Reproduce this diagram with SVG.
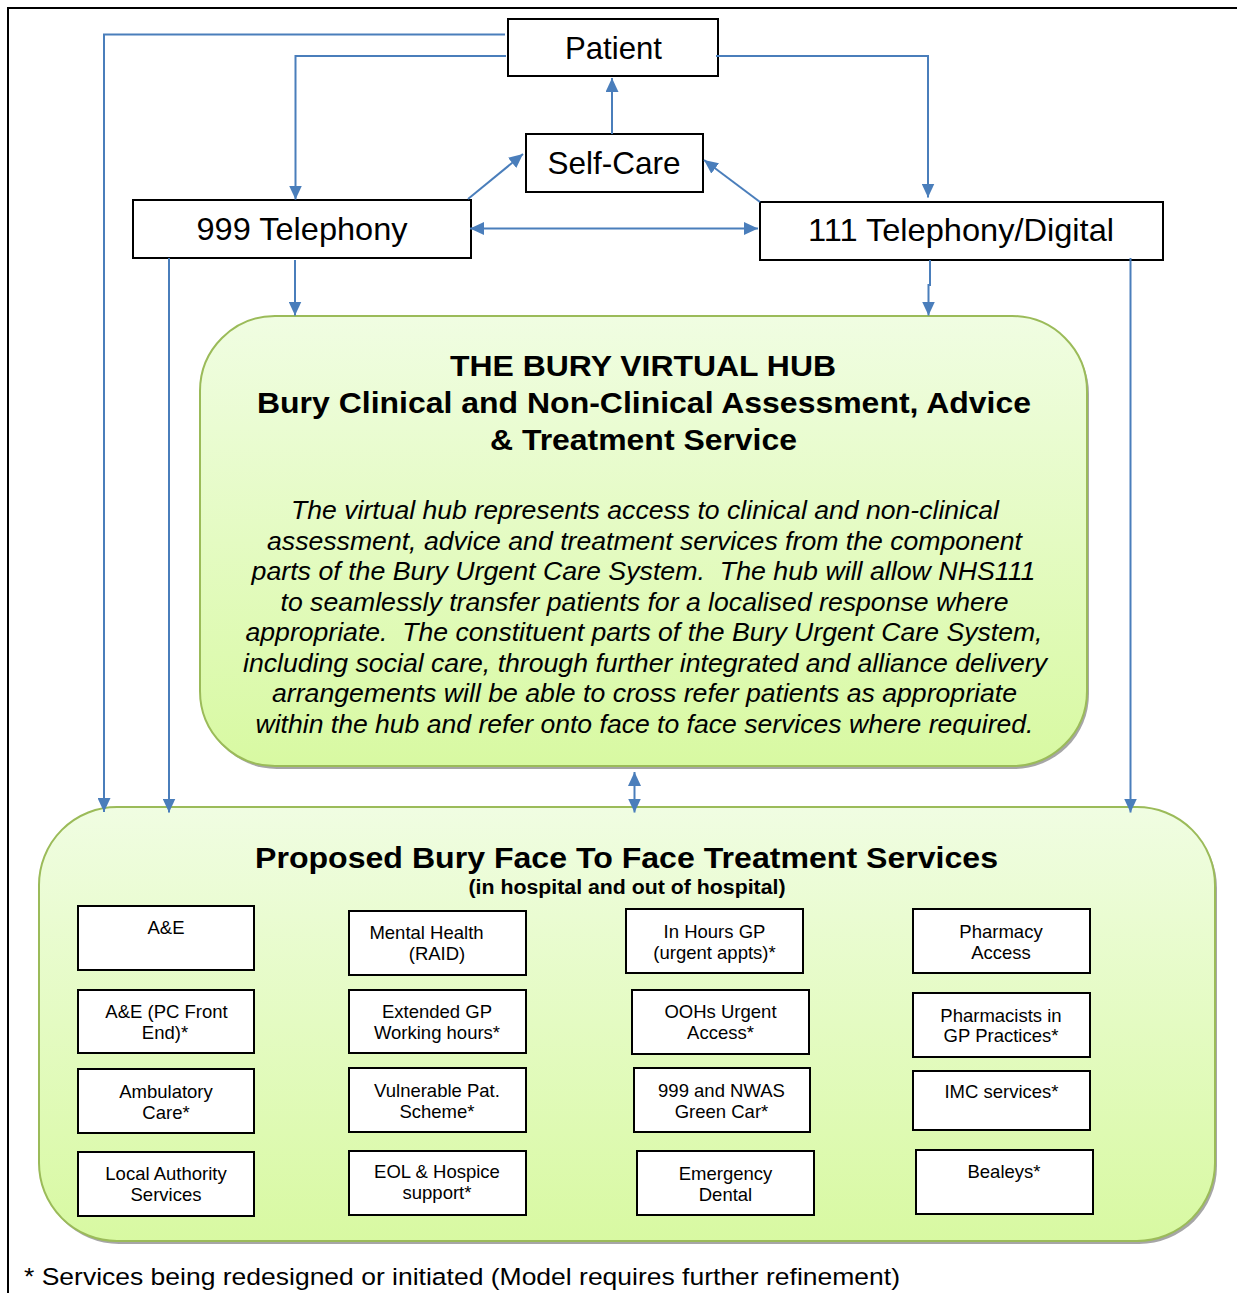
<svg xmlns="http://www.w3.org/2000/svg" width="1237" height="1293" viewBox="0 0 1237 1293">
<style>
.box{fill:#fff;stroke:#000;stroke-width:2}
.sm{fill:#fff;stroke:#000;stroke-width:2}
.big{font-family:"Liberation Sans",Arial,sans-serif;font-size:31.5px;fill:#000;text-anchor:middle}
.lbl{font-family:"Liberation Sans",Arial,sans-serif;font-size:18.5px;fill:#000;text-anchor:middle}
.ttl{font-family:"Liberation Sans",Arial,sans-serif;font-size:30px;font-weight:bold;fill:#000;text-anchor:middle}
.sub{font-family:"Liberation Sans",Arial,sans-serif;font-size:20px;font-weight:bold;fill:#000;text-anchor:middle}
.it{font-family:"Liberation Sans",Arial,sans-serif;font-size:25px;font-style:italic;fill:#000;text-anchor:middle;white-space:pre}
.foot{font-family:"Liberation Sans",Arial,sans-serif;font-size:24.5px;fill:#000}
.con{fill:none;stroke:#4a7ebb;stroke-width:2}
.green{stroke:#9bbb59;stroke-width:2}
</style>
<defs>
<linearGradient id="g" x1="0" y1="0" x2="0" y2="1">
<stop offset="0" stop-color="#f0fde2"/>
<stop offset="1" stop-color="#d8f9a2"/>
</linearGradient>
<marker id="ah" viewBox="0 0 14 13" refX="14" refY="6.5" markerWidth="14" markerHeight="13" markerUnits="userSpaceOnUse" orient="auto-start-reverse">
<path d="M0 0 L14 6.5 L0 13 Z" fill="#4a7ebb"/>
</marker>
<clipPath id="hubclip"><rect x="200" y="317" width="887" height="418"/></clipPath>
</defs>
<rect width="1237" height="1293" fill="#fff"/>
<path d="M8 1293 V8 H1237" fill="none" stroke="#000" stroke-width="2"/>

<g id="hub">
<rect x="202" y="319" width="887" height="450" rx="75" fill="#a6a6a6"/>
<rect x="200" y="316" width="887" height="450" rx="75" fill="url(#g)" class="green"/>
<text class="ttl" x="643" y="376" textLength="386" lengthAdjust="spacingAndGlyphs">THE BURY VIRTUAL HUB</text>
<text class="ttl" x="644" y="413" textLength="774" lengthAdjust="spacingAndGlyphs">Bury Clinical and Non-Clinical Assessment, Advice</text>
<text class="ttl" x="643.5" y="450" textLength="307" lengthAdjust="spacingAndGlyphs">&amp; Treatment Service</text>
<g clip-path="url(#hubclip)">
<text class="it" x="645" y="519" textLength="708" lengthAdjust="spacingAndGlyphs">The virtual hub represents access to clinical and non-clinical</text>
<text class="it" x="644.5" y="549.5" textLength="755" lengthAdjust="spacingAndGlyphs">assessment, advice and treatment services from the component</text>
<text class="it" x="643.5" y="580" textLength="784" lengthAdjust="spacingAndGlyphs" xml:space="preserve">parts of the Bury Urgent Care System.  The hub will allow NHS111</text>
<text class="it" x="644.5" y="611" textLength="728" lengthAdjust="spacingAndGlyphs">to seamlessly transfer patients for a localised response where</text>
<text class="it" x="644" y="641" textLength="797" lengthAdjust="spacingAndGlyphs" xml:space="preserve">appropriate.  The constituent parts of the Bury Urgent Care System,</text>
<text class="it" x="645" y="672" textLength="804" lengthAdjust="spacingAndGlyphs">including social care, through further integrated and alliance delivery</text>
<text class="it" x="644.5" y="702" textLength="745" lengthAdjust="spacingAndGlyphs">arrangements will be able to cross refer patients as appropriate</text>
<text class="it" x="644.5" y="732.5" textLength="778" lengthAdjust="spacingAndGlyphs">within the hub and refer onto face to face services where required.</text>
</g>
</g>

<g id="services">
<rect x="41" y="810" width="1176" height="434" rx="78" fill="#a6a6a6"/>
<rect x="39" y="807" width="1176" height="434" rx="78" fill="url(#g)" class="green"/>
<text class="ttl" x="626.5" y="868" textLength="743" lengthAdjust="spacingAndGlyphs">Proposed Bury Face To Face Treatment Services</text>
<text class="sub" x="627" y="894" textLength="317" lengthAdjust="spacingAndGlyphs">(in hospital and out of hospital)</text>
</g>

<g id="patient"><rect class="box" x="508" y="19" width="210" height="57"/><text class="big" x="613.5" y="59" textLength="97" lengthAdjust="spacingAndGlyphs">Patient</text></g>
<g id="selfcare"><rect class="box" x="526" y="134" width="177" height="58"/><text class="big" x="614" y="174" textLength="133" lengthAdjust="spacingAndGlyphs">Self-Care</text></g>
<g id="t999"><rect class="box" x="133" y="200" width="338" height="58"/><text class="big" x="302" y="239.5" textLength="211" lengthAdjust="spacingAndGlyphs">999 Telephony</text></g>
<g id="t111"><rect class="box" x="760" y="202" width="403" height="58"/><text class="big" x="961" y="241" textLength="306" lengthAdjust="spacingAndGlyphs">111 Telephony/Digital</text></g>

<g id="ae"><rect class="sm" x="78" y="906" width="176" height="64"/><text class="lbl" x="166" y="934">A&amp;E</text></g>
<g id="aepc"><rect class="sm" x="78" y="990" width="176" height="63"/><text class="lbl" x="166.5" y="1018">A&amp;E (PC Front</text><text class="lbl" x="165" y="1039">End)*</text></g>
<g id="amb"><rect class="sm" x="78" y="1069" width="176" height="64"/><text class="lbl" x="166" y="1098">Ambulatory</text><text class="lbl" x="166" y="1119">Care*</text></g>
<g id="la"><rect class="sm" x="78" y="1152" width="176" height="64"/><text class="lbl" x="166" y="1180">Local Authority</text><text class="lbl" x="166" y="1201">Services</text></g>

<g id="mh"><rect class="sm" x="349" y="911" width="177" height="64"/><text class="lbl" x="426.5" y="939">Mental Health</text><text class="lbl" x="437" y="960">(RAID)</text></g>
<g id="egp"><rect class="sm" x="349" y="990" width="177" height="63"/><text class="lbl" x="437" y="1018">Extended GP</text><text class="lbl" x="437" y="1039">Working hours*</text></g>
<g id="vps"><rect class="sm" x="349" y="1068" width="177" height="64"/><text class="lbl" x="437" y="1097">Vulnerable Pat.</text><text class="lbl" x="437" y="1118">Scheme*</text></g>
<g id="eol"><rect class="sm" x="349" y="1151" width="177" height="64"/><text class="lbl" x="437" y="1178">EOL &amp; Hospice</text><text class="lbl" x="437" y="1199">support*</text></g>

<g id="ihgp"><rect class="sm" x="626" y="909" width="177" height="64"/><text class="lbl" x="714.5" y="938">In Hours GP</text><text class="lbl" x="714.5" y="958.5">(urgent appts)*</text></g>
<g id="oohs"><rect class="sm" x="632" y="990" width="177" height="64"/><text class="lbl" x="720.5" y="1018">OOHs Urgent</text><text class="lbl" x="720.5" y="1038.5">Access*</text></g>
<g id="nwas"><rect class="sm" x="634" y="1068" width="176" height="64"/><text class="lbl" x="721.5" y="1097">999 and NWAS</text><text class="lbl" x="721.5" y="1118">Green Car*</text></g>
<g id="dental"><rect class="sm" x="637" y="1151" width="177" height="64"/><text class="lbl" x="725.5" y="1180">Emergency</text><text class="lbl" x="725.5" y="1201">Dental</text></g>

<g id="pharm"><rect class="sm" x="913" y="909" width="177" height="64"/><text class="lbl" x="1001" y="938">Pharmacy</text><text class="lbl" x="1001" y="958.5">Access</text></g>
<g id="pharmgp"><rect class="sm" x="913" y="993" width="177" height="64"/><text class="lbl" x="1001" y="1022">Pharmacists in</text><text class="lbl" x="1001" y="1042">GP Practices*</text></g>
<g id="imc"><rect class="sm" x="913" y="1071" width="177" height="59"/><text class="lbl" x="1001.5" y="1097.5">IMC services*</text></g>
<g id="bealeys"><rect class="sm" x="916" y="1150" width="177" height="64"/><text class="lbl" x="1004" y="1178">Bealeys*</text></g>

<g id="connectors">
<path class="con" d="M505 34.5 H104 V812" marker-end="url(#ah)"/>
<path class="con" d="M506 56 H295.5 V199.5" marker-end="url(#ah)"/>
<path class="con" d="M716 56 H928 V197.5" marker-end="url(#ah)"/>
<path class="con" d="M612 134 V78" marker-end="url(#ah)"/>
<path class="con" d="M468 199 L523 154" marker-end="url(#ah)"/>
<path class="con" d="M760 202 L704 160" marker-end="url(#ah)"/>
<path class="con" d="M470 228.5 H758" marker-start="url(#ah)" marker-end="url(#ah)"/>
<path class="con" d="M295 260 V315.5" marker-end="url(#ah)"/>
<path class="con" d="M930 260 V285 H928.5 V315.5" marker-end="url(#ah)"/>
<path class="con" d="M169 258 V812.5" marker-end="url(#ah)"/>
<path class="con" d="M1130.5 258 V812.5" marker-end="url(#ah)"/>
<path class="con" d="M634.5 772 V812.5" marker-start="url(#ah)" marker-end="url(#ah)"/>
</g>

<text class="foot" x="24" y="1285" textLength="876" lengthAdjust="spacingAndGlyphs">* Services being redesigned or initiated (Model requires further refinement)</text>
</svg>
